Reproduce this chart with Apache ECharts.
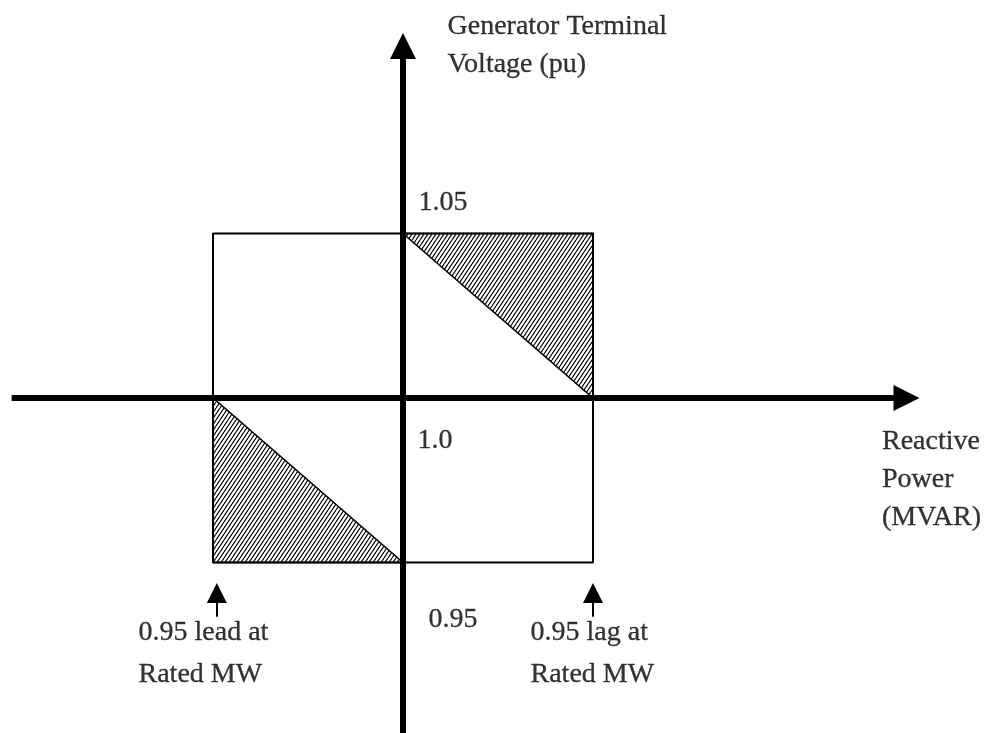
<!DOCTYPE html>
<html>
<head>
<meta charset="utf-8">
<title>Generator terminal voltage vs reactive power</title>
<script src="https://cdn.jsdelivr.net/npm/echarts@6/dist/echarts.min.js"></script>
<style>
  html, body { margin: 0; padding: 0; background: #fff; }
  #chart { width: 996px; height: 733px; }
</style>
</head>
<body>
<div id="chart"></div>
<script>
// data
const qLimits = [-1, 1]             // reactive power at 0.95 lead / lag, rated MW (per unit of rating)
const vLevels = [0.95, 1.0, 1.05]   // terminal voltage band (pu)
const vLabels = ['0.95', '1.0', '1.05']
const pfNotes = ['0.95 lead at\nRated MW', '0.95 lag at\nRated MW']
const axisNames = ['Reactive\nPower\n(MVAR)', 'Generator Terminal\nVoltage (pu)']

// how far the drawn axes run
const qAxisSpan = [-2.06, 2.65]
const vAxisSpan = [0.895, 1.107]
const noteArrowV = [0.9335, 0.9407]

// scale: (q = 0, v = 1.0) lands at px 403,398
const W = 996
const H = 733
const origin = [403, 398]
const pxPerQ = 190
const pxPerPu = 3290

const [qMin, qMax] = qLimits
const [vMin, vNom, vMax] = vLevels

// shaded regions
const shaded = [
  [[0, vMax], [qMax, vMax], [qMax, vNom]],
  [[qMin, vNom], [qMin, vMin], [0, vMin]]
]

// diagonal hatch tile
const hatch = (() => {
  const c = document.createElement('canvas')
  c.width = 4
  c.height = 6
  const ctx = c.getContext('2d')
  ctx.fillStyle = '#fff'
  ctx.fillRect(0, 0, 4, 6)
  ctx.strokeStyle = '#000'
  ctx.lineWidth = 1.2
  for (const dx of [-4, 0, 4]) {
    ctx.beginPath()
    ctx.moveTo(dx, 6)
    ctx.lineTo(dx + 4, 0)
    ctx.stroke()
  }
  return { image: c, repeat: 'repeat' }
})()

const font = {
  fontFamily: '"Liberation Serif", "Times New Roman", serif',
  fontSize: 28,
  color: '#000',
  textBorderColor: '#000',
  textBorderWidth: 0.3
}

const textItem = (value, text, offset, lineHeight) => ({
  value,
  label: { formatter: text, offset, lineHeight: lineHeight || 38 }
})

const chart = echarts.init(document.getElementById('chart'), null, { renderer: 'canvas' })

const option = {
  animation: false,
  backgroundColor: '#fff',
  grid: { left: 0, right: 0, top: 0, bottom: 0 },
  xAxis: {
    type: 'value',
    show: false,
    min: -origin[0] / pxPerQ,
    max: (W - origin[0]) / pxPerQ
  },
  yAxis: {
    type: 'value',
    show: false,
    min: vNom - (H - origin[1]) / pxPerPu,
    max: vNom + origin[1] / pxPerPu
  },
  series: [
    {
      type: 'custom',
      silent: true,
      data: shaded.map((s, i) => [i]),
      encode: { x: 0 },
      renderItem: (params, api) => ({
        type: 'polygon',
        shape: { points: shaded[params.dataIndex].map(p => api.coord(p)) },
        style: { fill: hatch, stroke: '#000', lineWidth: 1.5 }
      }),
      z: 1
    },
    {
      type: 'line',
      silent: true,
      showSymbol: false,
      data: [[qMin, vMin], [qMin, vMax], [qMax, vMax], [qMax, vMin], [qMin, vMin]],
      lineStyle: { color: '#000', width: 2 },
      z: 2
    },
    {
      // main axes with arrow heads
      type: 'lines',
      coordinateSystem: 'cartesian2d',
      silent: true,
      symbol: ['none', 'triangle'],
      symbolSize: [28, 26],
      lineStyle: { color: '#000', width: 6, opacity: 1, curveness: 0 },
      data: [
        { coords: [[qAxisSpan[0], vNom], [qAxisSpan[1], vNom]] },
        { coords: [[0, vAxisSpan[0]], [0, vAxisSpan[1]]] }
      ],
      z: 3
    },
    {
      // small pointers under the box
      type: 'lines',
      coordinateSystem: 'cartesian2d',
      silent: true,
      symbol: ['none', 'triangle'],
      symbolSize: [20, 20],
      lineStyle: { color: '#000', width: 2, opacity: 1, curveness: 0 },
      data: [
        { coords: [[qMin + 0.02, noteArrowV[0]], [qMin + 0.02, noteArrowV[1]]] },
        { coords: [[qMax, noteArrowV[0]], [qMax, noteArrowV[1]]] }
      ],
      z: 3
    },
    {
      type: 'scatter',
      silent: true,
      symbolSize: 1,
      itemStyle: { color: 'rgba(0,0,0,0)' },
      label: {
        show: true,
        position: 'right',
        distance: 0,
        align: 'left',
        verticalAlign: 'middle',
        ...font
      },
      data: [
        textItem([0, vMax], vLabels[2], [15, -31]),
        textItem([0, vNom], vLabels[1], [14, 43]),
        textItem([0, vMin], vLabels[0], [25, 57]),
        textItem([0, vAxisSpan[1]], axisNames[1], [44, 0]),
        textItem([qAxisSpan[1], vNom], axisNames[0], [-25, 82]),
        textItem([qMin, vMin], pfNotes[0], [-75, 91], 42),
        textItem([qMax, vMin], pfNotes[1], [-63, 91], 42)
      ],
      z: 4
    }
  ]
}

chart.setOption(option)
</script>
</body>
</html>
